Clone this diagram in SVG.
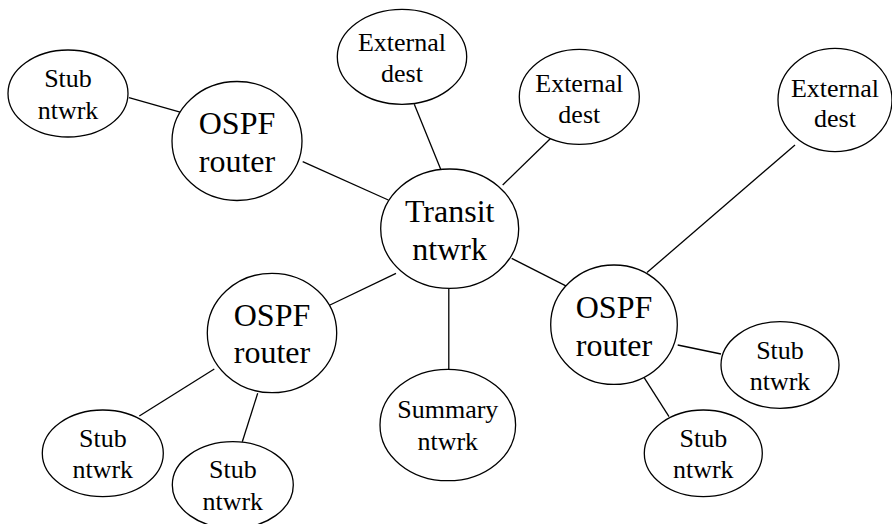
<svg xmlns="http://www.w3.org/2000/svg" width="892" height="524" viewBox="0 0 892 524">
<style>
.n ellipse{fill:#fff;stroke:#000;stroke-width:1.3}
.n text{font-family:'Liberation Serif',serif;text-anchor:middle;fill:#000}
.s text{font-size:26px}
.b text{font-size:32px}
#edges line{stroke:#000;stroke-width:1.3}
</style>
<rect width="892" height="524" fill="#fff"/>
<g id="edges">
<line x1="129" y1="97.7" x2="181" y2="112.3"/>
<line x1="302.7" y1="161.7" x2="388.3" y2="200"/>
<line x1="414.3" y1="104.3" x2="440.7" y2="169.3"/>
<line x1="552.3" y1="136.7" x2="502.7" y2="185"/>
<line x1="795" y1="145" x2="647" y2="272.5"/>
<line x1="396" y1="273.3" x2="330" y2="305"/>
<line x1="511.7" y1="258.3" x2="569.3" y2="287.7"/>
<line x1="448.8" y1="288.3" x2="448.8" y2="369.3"/>
<line x1="214.3" y1="369" x2="139.3" y2="416"/>
<line x1="257.7" y1="393.3" x2="242.3" y2="441.7"/>
<line x1="677.7" y1="345" x2="721" y2="354"/>
<line x1="644" y1="377.3" x2="669" y2="416.7"/>
</g>
<g id="nodes">
<g id="stub-tl" class="n s"><ellipse cx="68" cy="93.5" rx="60" ry="43.5"/><text x="68" y="86.7">Stub</text><text x="68" y="119">ntwrk</text></g>
<g id="ospf-tl" class="n b"><ellipse cx="237" cy="141" rx="65" ry="59.5"/><text x="237" y="134.3">OSPF</text><text x="237" y="171.7">router</text></g>
<g id="ext-1" class="n s"><ellipse cx="402" cy="56.8" rx="64.7" ry="47.5"/><text x="402" y="51">External</text><text x="402" y="81.7">dest</text></g>
<g id="ext-2" class="n s"><ellipse cx="579.3" cy="96.8" rx="60" ry="47.5"/><text x="579.3" y="91.7">External</text><text x="579.3" y="122.7">dest</text></g>
<g id="ext-3" class="n s"><ellipse cx="835" cy="100" rx="57" ry="51.7"/><text x="835" y="97">External</text><text x="835" y="127.3">dest</text></g>
<g id="transit" class="n b"><ellipse cx="449.7" cy="228.7" rx="69" ry="59.7"/><text x="449.7" y="221.7">Transit</text><text x="449.7" y="260">ntwrk</text></g>
<g id="ospf-bl" class="n b"><ellipse cx="272" cy="333" rx="64.7" ry="59.7"/><text x="272" y="325.7">OSPF</text><text x="272" y="363.3">router</text></g>
<g id="ospf-r" class="n b"><ellipse cx="614" cy="324.7" rx="63.3" ry="59.7"/><text x="614" y="317.7">OSPF</text><text x="614" y="355.7">router</text></g>
<g id="summary" class="n s"><ellipse cx="447.8" cy="425" rx="67.8" ry="55.7"/><text x="447.8" y="418.3">Summary</text><text x="447.8" y="450">ntwrk</text></g>
<g id="stub-bl1" class="n s"><ellipse cx="102.8" cy="453.3" rx="60.5" ry="43.3"/><text x="102.8" y="446.7">Stub</text><text x="102.8" y="478.3">ntwrk</text></g>
<g id="stub-bl2" class="n s"><ellipse cx="232.8" cy="485" rx="60.5" ry="43.3"/><text x="232.8" y="478.3">Stub</text><text x="232.8" y="510">ntwrk</text></g>
<g id="stub-r1" class="n s"><ellipse cx="780" cy="365" rx="59" ry="43.3"/><text x="780" y="359">Stub</text><text x="780" y="390">ntwrk</text></g>
<g id="stub-r2" class="n s"><ellipse cx="703.3" cy="453.3" rx="59" ry="43.3"/><text x="703.3" y="446.7">Stub</text><text x="703.3" y="478.3">ntwrk</text></g>
</g>
</svg>
